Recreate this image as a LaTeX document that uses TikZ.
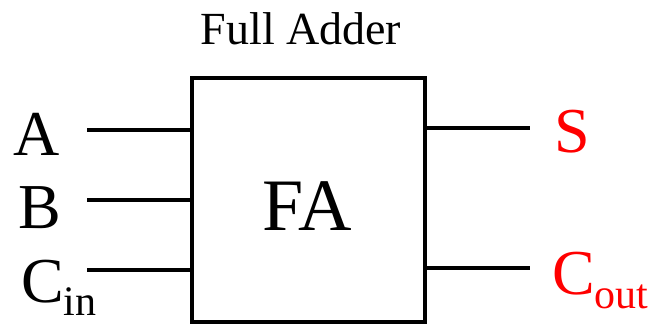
\documentclass[tikz,border=0pt]{standalone}
\usepackage{fontspec}
\setmainfont{Liberation Serif}
\begin{document}
\begin{tikzpicture}[x=1pt,y=-1pt,
  wire/.style={line width=4pt},
  lbl/.style={inner sep=0pt,font=\fontsize{64}{64}\selectfont}]
\useasboundingbox (0,0) rectangle (658,325);
\node[draw,line width=4pt,minimum width=233pt,minimum height=244pt,inner sep=0pt] (fa) at (308.5,200) {};
\node[anchor=base,inner sep=0pt,font=\fontsize{74}{74}\selectfont] (falbl) at (307,230) {FA};
\node[anchor=base,inner sep=0pt,font=\fontsize{46}{46}\selectfont] (title) at (301,44) {Full Adder};
% input wires
\coordinate (ain) at (87,130);
\coordinate (bin) at (87,200);
\coordinate (cin) at (87,270);
\draw[wire] (ain) -- (ain -| fa.west);
\draw[wire] (bin) -- (bin -| fa.west);
\draw[wire] (cin) -- (cin -| fa.west);
% output wires
\coordinate (sout) at (530,128);
\coordinate (cout) at (530,268);
\draw[wire] (sout -| fa.east) -- (sout);
\draw[wire] (cout -| fa.east) -- (cout);
% labels
\node[lbl,anchor=base] (la) at (37,155) {A};
\node[lbl,anchor=base] (lb) at (40,228) {B};
\node[lbl,anchor=base west] (lc) at (21,302) {C\raisebox{-13pt}{\fontsize{42}{42}\selectfont in}};
\node[lbl,anchor=base west,text=red] (ls) at (554,152) {S};
\node[lbl,anchor=base west,text=red] (lco) at (552,294) {C\raisebox{-14pt}{\fontsize{42}{42}\selectfont out}};
\end{tikzpicture}
\end{document}
